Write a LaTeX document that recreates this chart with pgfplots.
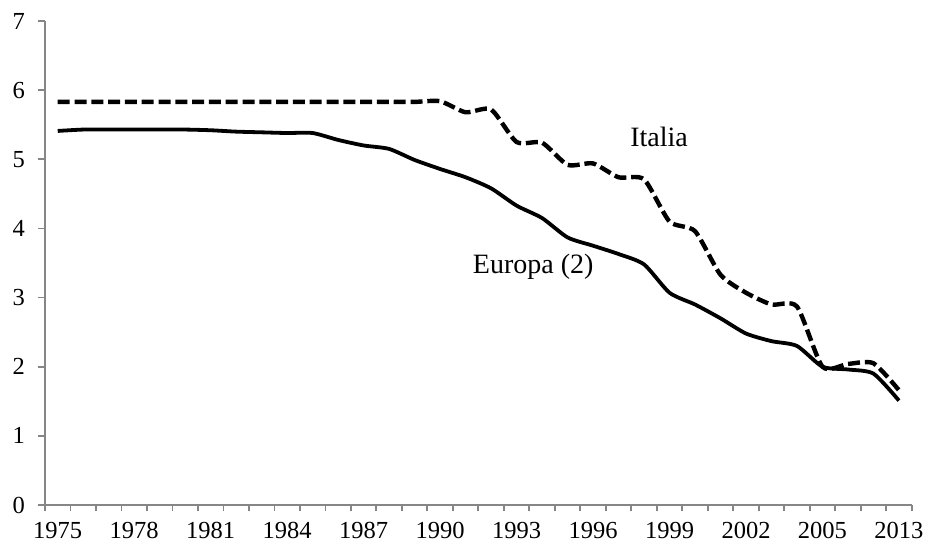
\documentclass[border=0pt]{standalone}
\usepackage{fontspec}
\setmainfont{Liberation Serif}
\usepackage{pgfplots}
\pgfplotsset{compat=1.18}
\definecolor{axgray}{RGB}{134,134,134}
\newcommand\tf{\fontsize{12.25}{14}\selectfont}
\begin{document}
\begin{tikzpicture}
\useasboundingbox (-22.5pt,-20.5pt) rectangle (441pt,252.5pt);
\begin{axis}[
  at={(0,0)}, anchor=south west,
  scale only axis,
  width=433.35pt, height=242pt,
  xmin=-0.5, xmax=33.5,
  ymin=0, ymax=7,
  axis x line*=bottom, axis y line*=left,
  axis line style={draw=axgray, line width=0.9pt},
  tick align=outside,
  xtick={0,3,...,33},
  xticklabels={{\tf 1975},{\tf 1978},{\tf 1981},{\tf 1984},{\tf 1987},{\tf 1990},{\tf 1993},{\tf 1996},{\tf 1999},{\tf 2002},{\tf 2005},{\tf 2013}},
  minor xtick={-0.5,0.5,...,33.5},
  ytick={0,1,...,7},
  yticklabels={{\tf 0},{\tf 1},{\tf 2},{\tf 3},{\tf 4},{\tf 5},{\tf 6},{\tf 7}},
  major x tick style={draw=none},
  minor x tick style={draw=axgray, line width=0.9pt},
  major y tick style={draw=axgray, line width=0.9pt},
  major tick length=3.5pt,
  minor tick length=3.25pt,
  xticklabel style={font=\tf, text=black, inner ysep=1pt, yshift=-4pt},
  yticklabel style={font=\tf, text=black, xshift=-3pt},
  clip=false,
]
\addplot[black, line width=2.2pt, dash pattern=on 6pt off 2.4pt, smooth, tension=0.4] coordinates {
(0,5.83)(1,5.83)(2,5.83)(3,5.83)(4,5.83)(5,5.83)(6,5.83)(7,5.83)(8,5.83)(9,5.83)
(10,5.83)(11,5.83)(12,5.83)(13,5.83)(14,5.83)(15,5.84)(16,5.68)(17,5.72)(18,5.25)(19,5.24)
(20,4.92)(21,4.94)(22,4.74)(23,4.71)(24,4.10)(25,3.96)(26,3.33)(27,3.07)(28,2.90)(29,2.87)
(30,2.00)(31,2.04)(32,2.05)(33,1.66)};
\addplot[black, line width=1.9pt, smooth, tension=0.4] coordinates {
(0,5.41)(1,5.43)(2,5.43)(3,5.43)(4,5.43)(5,5.43)(6,5.42)(7,5.40)(8,5.39)(9,5.38)
(10,5.38)(11,5.28)(12,5.20)(13,5.15)(14,4.99)(15,4.86)(16,4.74)(17,4.58)(18,4.33)(19,4.15)
(20,3.87)(21,3.75)(22,3.63)(23,3.48)(24,3.07)(25,2.90)(26,2.70)(27,2.48)(28,2.37)(29,2.30)
(30,2.00)(31,1.96)(32,1.90)(33,1.51)};
\node[font=\fontsize{14}{16}\selectfont] at (axis cs:23.59,5.33) {Italia};
\node[font=\fontsize{14}{16}\selectfont] at (axis cs:18.65,3.44) {Europa (2)};
\end{axis}
\end{tikzpicture}
\end{document}
